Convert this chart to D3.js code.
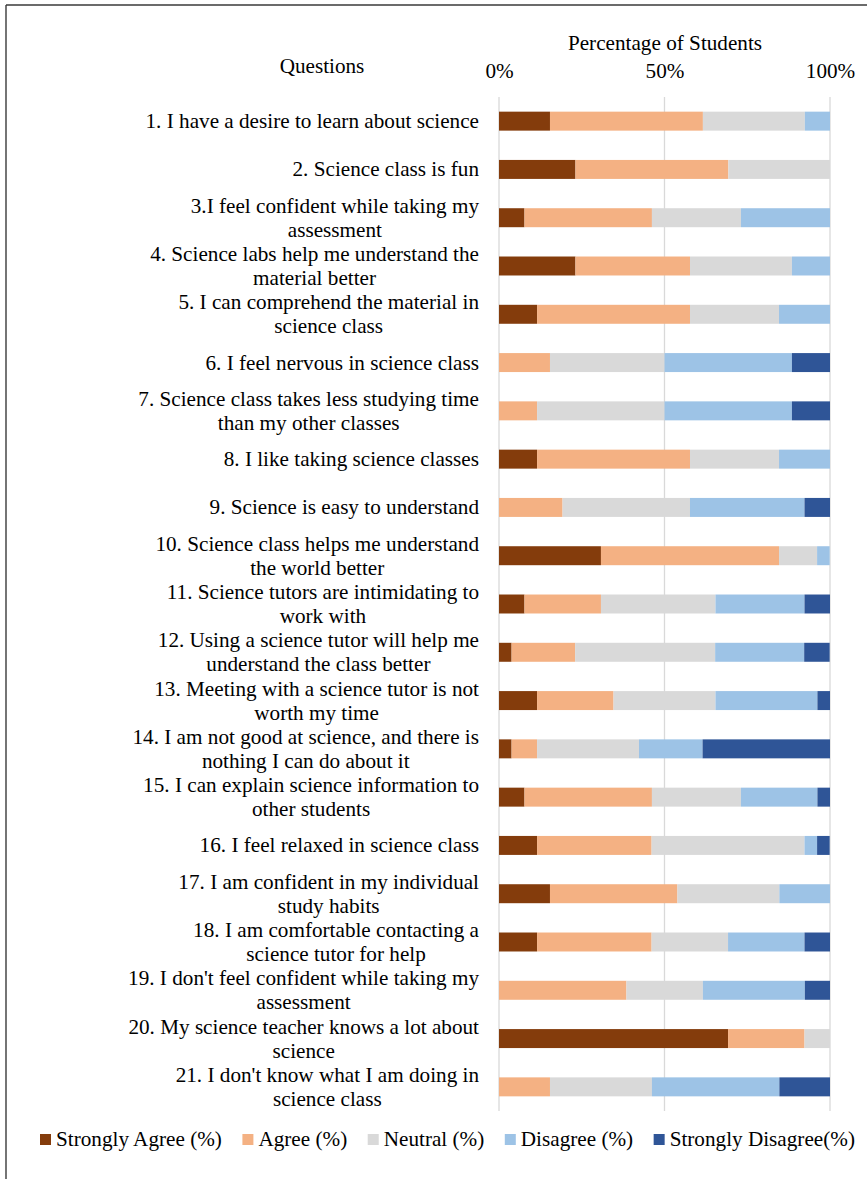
<!DOCTYPE html>
<html>
<head>
<meta charset="utf-8">
<script src="https://cdn.jsdelivr.net/npm/d3@7"></script>
<style>
  html, body { margin: 0; padding: 0; background: #fff; }
  svg { display: block; }
  text { font-family: "Liberation Serif", "Times New Roman", serif; fill: #000; }
</style>
</head>
<body>
<svg id="chart" width="867" height="1179"></svg>
<script>
// Survey statements (label lines as wrapped in the chart)
const questions = [
  ["1. I have a desire to learn about science"],
  ["2. Science class is fun"],
  ["3.I feel confident while taking my", "assessment"],
  ["4. Science labs help me understand the", "material better"],
  ["5. I can comprehend the material in", "science class"],
  ["6. I feel nervous in science class"],
  ["7. Science class takes less studying time", "than my other classes"],
  ["8. I like taking science classes"],
  ["9. Science is easy to understand"],
  ["10. Science class helps me understand", "the world better"],
  ["11. Science tutors are intimidating to", "work with"],
  ["12. Using a science tutor will help me", "understand the class better"],
  ["13. Meeting with a science tutor is not", "worth my time"],
  ["14. I am not good at science, and there is", "nothing I can do about it"],
  ["15. I can explain science information to", "other students"],
  ["16. I feel relaxed in science class"],
  ["17. I am confident in my individual", "study habits"],
  ["18. I am comfortable contacting a", "science tutor for help"],
  ["19. I don't feel confident while taking my", "assessment"],
  ["20. My science teacher knows a lot about", "science"],
  ["21. I don't know what I am doing in", "science class"]
];

const seriesNames = ["Strongly Agree (%)", "Agree (%)", "Neutral (%)", "Disagree (%)", "Strongly Disagree(%)"];

// Percentages per question, one array per response level
const stronglyAgree    = [15.4, 23.1,  7.7, 23.1, 11.5,  0.0,  0.0, 11.5,  0.0, 30.8,  7.7,  3.8, 11.5,  3.8,  7.7, 11.5, 15.4, 11.5,  0.0, 69.2,  0.0];
const agree            = [46.2, 46.2, 38.5, 34.6, 46.2, 15.4, 11.5, 46.2, 19.2, 53.8, 23.1, 19.2, 23.1,  7.7, 38.5, 34.6, 38.5, 34.6, 38.5, 23.1, 15.4];
const neutral          = [30.8, 30.8, 26.9, 30.8, 26.9, 34.6, 38.5, 26.9, 38.5, 11.5, 34.6, 42.3, 30.8, 30.8, 26.9, 46.2, 30.8, 23.1, 23.1,  7.7, 30.8];
const disagree         = [ 7.7,  0.0, 26.9, 11.5, 15.4, 38.5, 38.5, 15.4, 34.6,  3.8, 26.9, 26.9, 30.8, 19.2, 23.1,  3.8, 15.4, 23.1, 30.8,  0.0, 38.5];
const stronglyDisagree = [ 0.0,  0.0,  0.0,  0.0,  0.0, 11.5, 11.5,  0.0,  7.7,  0.0,  7.7,  7.7,  3.8, 38.5,  3.8,  3.8,  0.0,  7.7,  7.7,  0.0, 15.4];

const xTicks = [0, 50, 100];
const colors = ["#843c0c", "#f4b183", "#d9d9d9", "#9dc3e6", "#2f5597"];

const keys = ["sa", "a", "n", "d", "sd"];
const rows = questions.map((q, i) => ({
  id: i, lines: q,
  sa: stronglyAgree[i], a: agree[i], n: neutral[i], d: disagree[i], sd: stronglyDisagree[i]
}));

const svg = d3.select("#chart");
const FS = 20;
const SX = 1.06; // slightly widened type

// Text placed at (x, y) with horizontal widening; returns the selection
function label(parent, x, y, str, anchor) {
  return parent.append("text")
    .attr("transform", `translate(${x},${y}) scale(${SX},1)`)
    .attr("font-size", FS)
    .attr("text-anchor", anchor || "start")
    .text(str);
}

// Chart frame (top and left edges)
svg.append("line").attr("x1", 6).attr("x2", 867).attr("y1", 5).attr("y2", 5)
  .attr("stroke", "#3a3a3a").attr("stroke-width", 1.4);
svg.append("line").attr("x1", 6).attr("x2", 6).attr("y1", 5).attr("y2", 1179)
  .attr("stroke", "#3a3a3a").attr("stroke-width", 1.4);

const x = d3.scaleLinear().domain([0, 100]).range([499, 830]);
const y = d3.scaleBand().domain(rows.map(r => r.id)).range([97, 1111])
  .paddingInner(0.607).paddingOuter(0.3035);

// Vertical gridlines
svg.append("g").selectAll("line").data(xTicks).join("line")
  .attr("x1", d => x(d)).attr("x2", d => x(d))
  .attr("y1", 97).attr("y2", 1111)
  .attr("stroke", "#d9d9d9").attr("stroke-width", 1.3);

// Top axis tick labels
const xAxis = d3.axisTop(x).tickValues(xTicks).tickFormat(d => d + "%").tickSize(0).tickPadding(0);
const axG = svg.append("g").attr("transform", "translate(0,78)").call(xAxis);
axG.select(".domain").remove();
axG.selectAll("text").attr("font-size", FS).attr("font-family", "Liberation Serif").attr("fill", "#000")
  .attr("dy", 0).attr("transform", `scale(${SX},1)`);

label(svg, 665, 50, "Percentage of Students", "middle");
label(svg, 322, 73, "Questions", "middle");

// Stacked bars
const stack = d3.stack().keys(keys)(rows);
svg.append("g").selectAll("g").data(stack).join("g")
  .attr("fill", (d, i) => colors[i])
  .selectAll("rect").data(d => d).join("rect")
  .attr("x", d => x(d[0]))
  .attr("width", d => Math.max(0, x(Math.min(100, d[1])) - x(d[0])))
  .attr("y", d => y(d.data.id))
  .attr("height", y.bandwidth());

// Question labels: lines centered within a right-aligned block
const labelRight = 479;
const lab = svg.append("g");
rows.forEach(r => {
  const cy = y(r.id) + y.bandwidth() / 2;
  const n = r.lines.length;
  const widths = r.lines.map(ln => {
    const t = label(lab, 0, 0, ln, "middle");
    const w = t.node().getComputedTextLength() * SX;
    t.remove();
    return w;
  });
  const cx = labelRight - d3.max(widths) / 2;
  r.lines.forEach((ln, k) => label(lab, cx, cy + 7 + (k - (n - 1) / 2) * 24, ln, "middle"));
});

// Legend
let lx = 40;
const leg = svg.append("g");
seriesNames.forEach((name, i) => {
  leg.append("rect").attr("x", lx).attr("y", 1134).attr("width", 11).attr("height", 11).attr("fill", colors[i]);
  const t = label(leg, lx + 16, 1146, name);
  lx += 16 + t.node().getComputedTextLength() * SX + 20.5;
});
</script>
</body>
</html>
